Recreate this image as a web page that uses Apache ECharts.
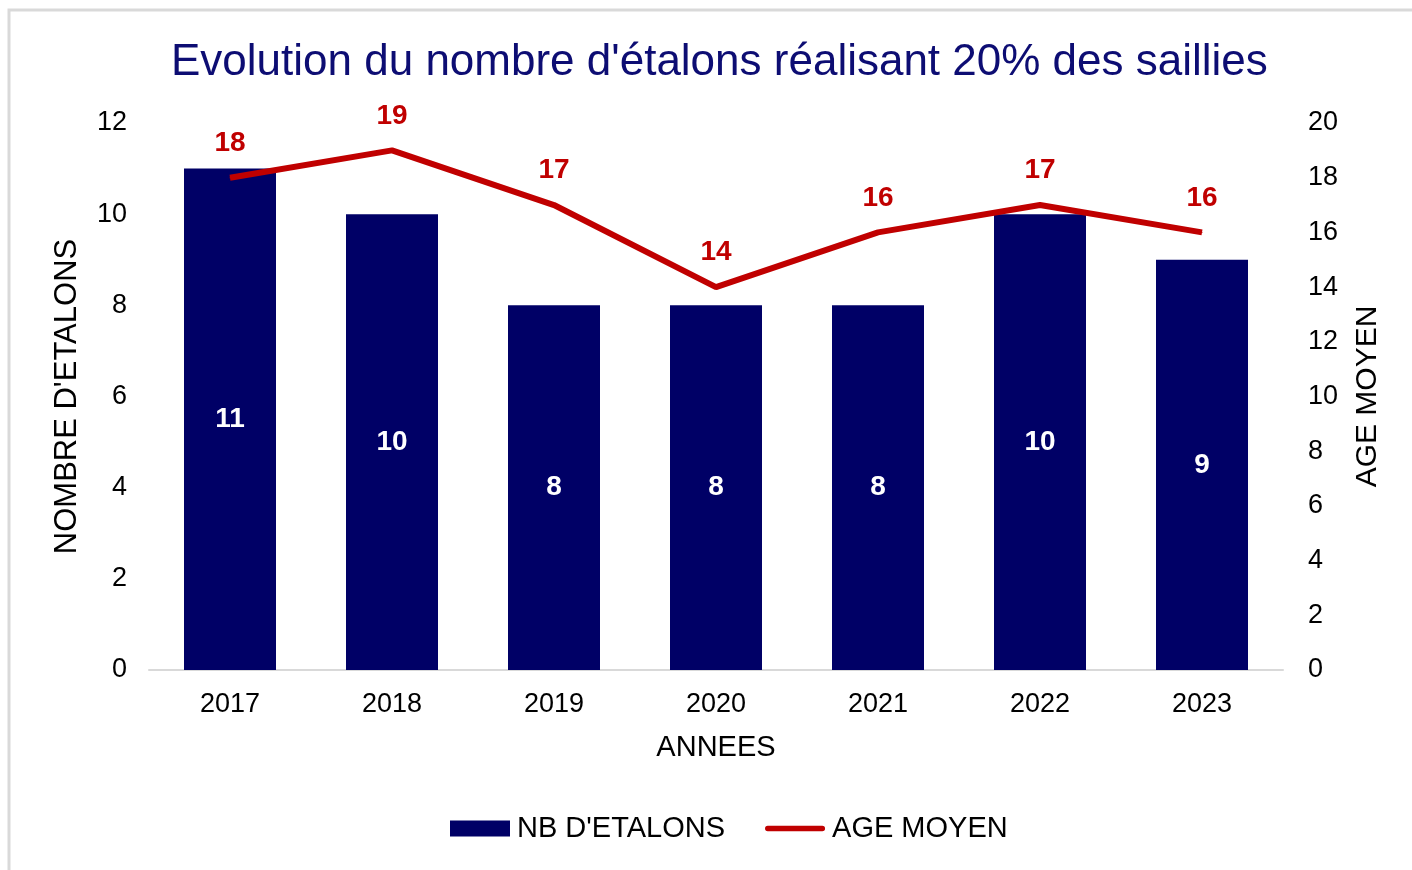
<!DOCTYPE html>
<html>
<head>
<meta charset="utf-8">
<script src="https://cdn.jsdelivr.net/npm/echarts@6/dist/echarts.min.js"></script>
<style>
  html, body { margin: 0; padding: 0; background: #fff; }
  #chart { width: 1412px; height: 870px; }
</style>
</head>
<body>
<div id="chart"></div>
<script>
const years = ['2017', '2018', '2019', '2020', '2021', '2022', '2023'];
const nbEtalons = [11, 10, 8, 8, 8, 10, 9];
const ageMoyen = [18, 19, 17, 14, 16, 17, 16];

const font = '"Liberation Sans", Arial, sans-serif';

const chart = echarts.init(document.getElementById('chart'));
chart.setOption({
    textStyle: { fontFamily: font },
    animation: false,
    graphic: [{
        type: 'rect',
        shape: { x: 9, y: 10, width: 1600, height: 1000 },
        style: { fill: 'none', stroke: '#d9d9d9', lineWidth: 3 }
    }],
    title: {
        text: "Evolution du nombre d'étalons réalisant 20% des saillies",
        left: 166,
        top: 36,
        textStyle: { fontFamily: font, fontSize: 44, fontWeight: 'normal', color: '#0d0d73' }
    },
    grid: { left: 149, right: 129, top: 123, bottom: 200 },
    legend: {
        bottom: 22,
        left: 445,
        itemWidth: 60,
        itemHeight: 16,
        itemGap: 40,
        textStyle: { fontFamily: font, fontSize: 29, color: '#000', padding: [0, 0, 0, 2] },
        data: [
            { name: "NB D'ETALONS", icon: 'rect' },
            { name: 'AGE MOYEN', icon: 'path://M3,0 L63,0 Q66,0 66,3 Q66,6 63,6 L3,6 Q0,6 0,3 Q0,0 3,0 Z' }
        ]
    },
    xAxis: {
        type: 'category',
        data: years,
        name: 'ANNEES',
        nameLocation: 'middle',
        nameGap: 63,
        nameTextStyle: { fontSize: 29, color: '#000' },
        axisLine: { lineStyle: { color: '#d9d9d9', width: 2 } },
        axisTick: { show: false },
        axisLabel: { fontSize: 27, color: '#000', margin: 21 }
    },
    yAxis: [{
        type: 'value',
        min: 0, max: 12, interval: 2,
        name: "NOMBRE D'ETALONS",
        nameLocation: 'middle',
        nameGap: 66,
        nameTextStyle: { fontSize: 31, color: '#000' },
        splitLine: { show: false },
        axisLine: { show: false },
        axisLabel: { fontSize: 27, color: '#000', margin: 22 }
    }, {
        type: 'value',
        min: 0, max: 20, interval: 2,
        name: 'AGE MOYEN',
        nameLocation: 'middle',
        nameGap: 70,
        nameTextStyle: { fontSize: 30, color: '#000' },
        splitLine: { show: false },
        axisLine: { show: false },
        axisLabel: { fontSize: 27, color: '#000', margin: 25 }
    }],
    series: [{
        name: "NB D'ETALONS",
        type: 'bar',
        data: nbEtalons,
        barWidth: 92,
        itemStyle: { color: '#000066' },
        label: {
            show: true,
            position: 'inside',
            color: '#fff',
            fontSize: 28,
            fontWeight: 'bold'
        }
    }, {
        name: 'AGE MOYEN',
        type: 'line',
        yAxisIndex: 1,
        data: ageMoyen,
        symbol: 'circle',
        symbolSize: 1,
        lineStyle: { color: '#c00000', width: 6 },
        itemStyle: { color: '#c00000' },
        label: {
            show: true,
            position: 'top',
            distance: 20,
            color: '#c00000',
            fontSize: 28,
            fontWeight: 'bold'
        }
    }]
});
</script>
</body>
</html>
